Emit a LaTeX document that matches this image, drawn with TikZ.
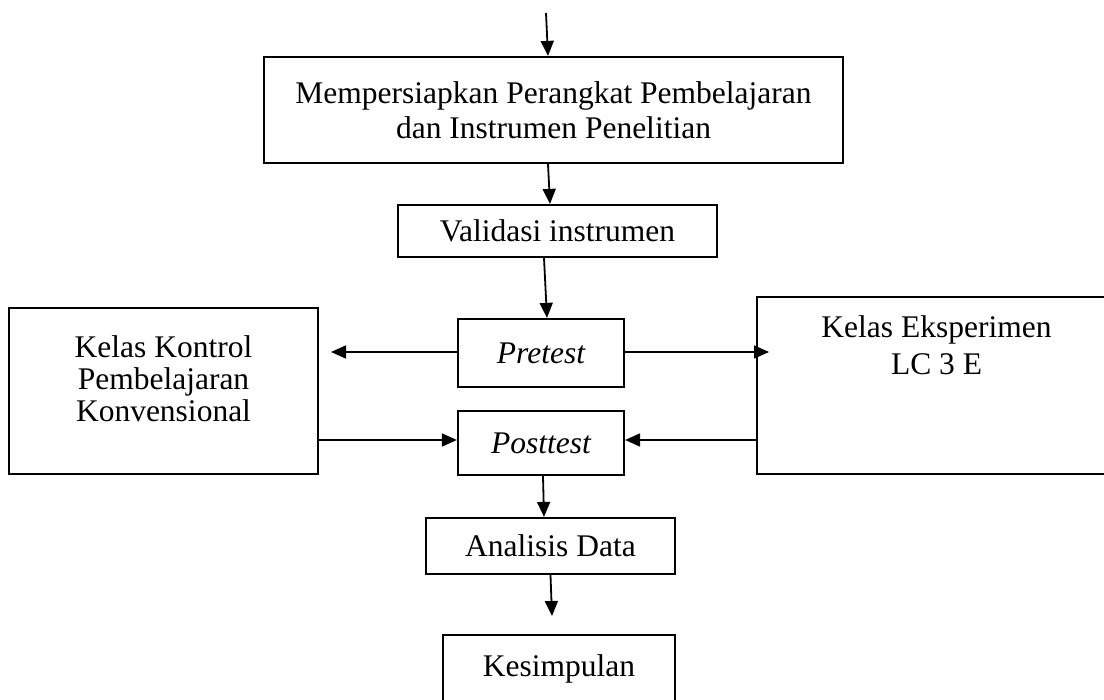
\documentclass[tikz,border=0pt]{standalone}
\usepackage{fontspec}
\setmainfont{Liberation Serif}
\usetikzlibrary{arrows.meta,calc}
\tikzset{
  box/.style={draw=black, line width=2.2pt, rectangle, inner sep=0pt, align=center,
    font=\fontsize{31.5pt}{35pt}\selectfont},
  lbl/.style={inner sep=0pt, align=center},
  arr/.style={line width=1.8pt, -{Triangle[length=15pt,width=13pt]}}
}
\begin{document}
\begin{tikzpicture}[x=1pt,y=-1pt]
\useasboundingbox (0,0) rectangle (1104,700);
\fill[white] (0,0) rectangle (1104,700);
\clip (0,0) rectangle (1104,700);
% boxes
\node[box, minimum width=579pt, minimum height=106pt] (prep) at (553.5,110)
  {Mempersiapkan Perangkat Pembelajaran\\dan Instrumen Penelitian};
\node[box, minimum width=319pt, minimum height=52pt] (valid) at (557.5,231) {Validasi instrumen};
\node[box, minimum width=166pt, minimum height=68pt] (pre) at (541,353) {\itshape Pretest};
\node[box, minimum width=166pt, minimum height=64pt] (post) at (541,443) {\itshape Posttest};
\node[box, minimum width=249pt, minimum height=56pt] (anal) at (550.5,546) {Analisis Data};
\node[box, minimum width=232pt, minimum height=67pt] (simp) at (559,668.5) {Kesimpulan};
\node[box, minimum width=309pt, minimum height=166pt] (kiri) at (163.5,391) {};
\node[box, minimum width=359pt, minimum height=177pt] (kanan) at (936.5,385.5) {};
\node[lbl, anchor=north, font=\fontsize{31.5pt}{32pt}\selectfont] (kiritxt) at (163.5,335.5)
  {Kelas Kontrol\\Pembelajaran\\Konvensional};
\node[lbl, anchor=north, font=\fontsize{31.5pt}{37pt}\selectfont] (kanantxt) at (936.5,315.5)
  {Kelas Eksperimen\\LC 3 E};
% free ends
\coordinate (start) at (546,13);
\coordinate (preL) at (331,352);
\coordinate (preR) at (769,352);
\coordinate (end) at (552,616);
\coordinate (pl) at ([yshift=3pt]post.west);
\coordinate (pr) at ([yshift=3pt]post.east);
% connectors
\draw[arr] (start) -- ([xshift=-5.5pt]prep.north);
\draw[arr] ([xshift=-5.5pt]prep.south) -- ([xshift=-7.5pt]valid.north);
\draw[arr] ([xshift=-13.5pt]valid.south) -- ([xshift=6pt]pre.north);
\draw[arr] ([yshift=1pt]pre.west) -- (preL);
\draw[arr] ([yshift=1pt]pre.east) -- (preR);
\draw[arr] (kiri.east |- pl) -- (pl);
\draw[arr] (kanan.west |- pr) -- (pr);
\draw[arr] ([xshift=2pt]post.south) -- ([xshift=-6.5pt]anal.north);
\draw[arr] (anal.south) -- (end);
\end{tikzpicture}
\end{document}
